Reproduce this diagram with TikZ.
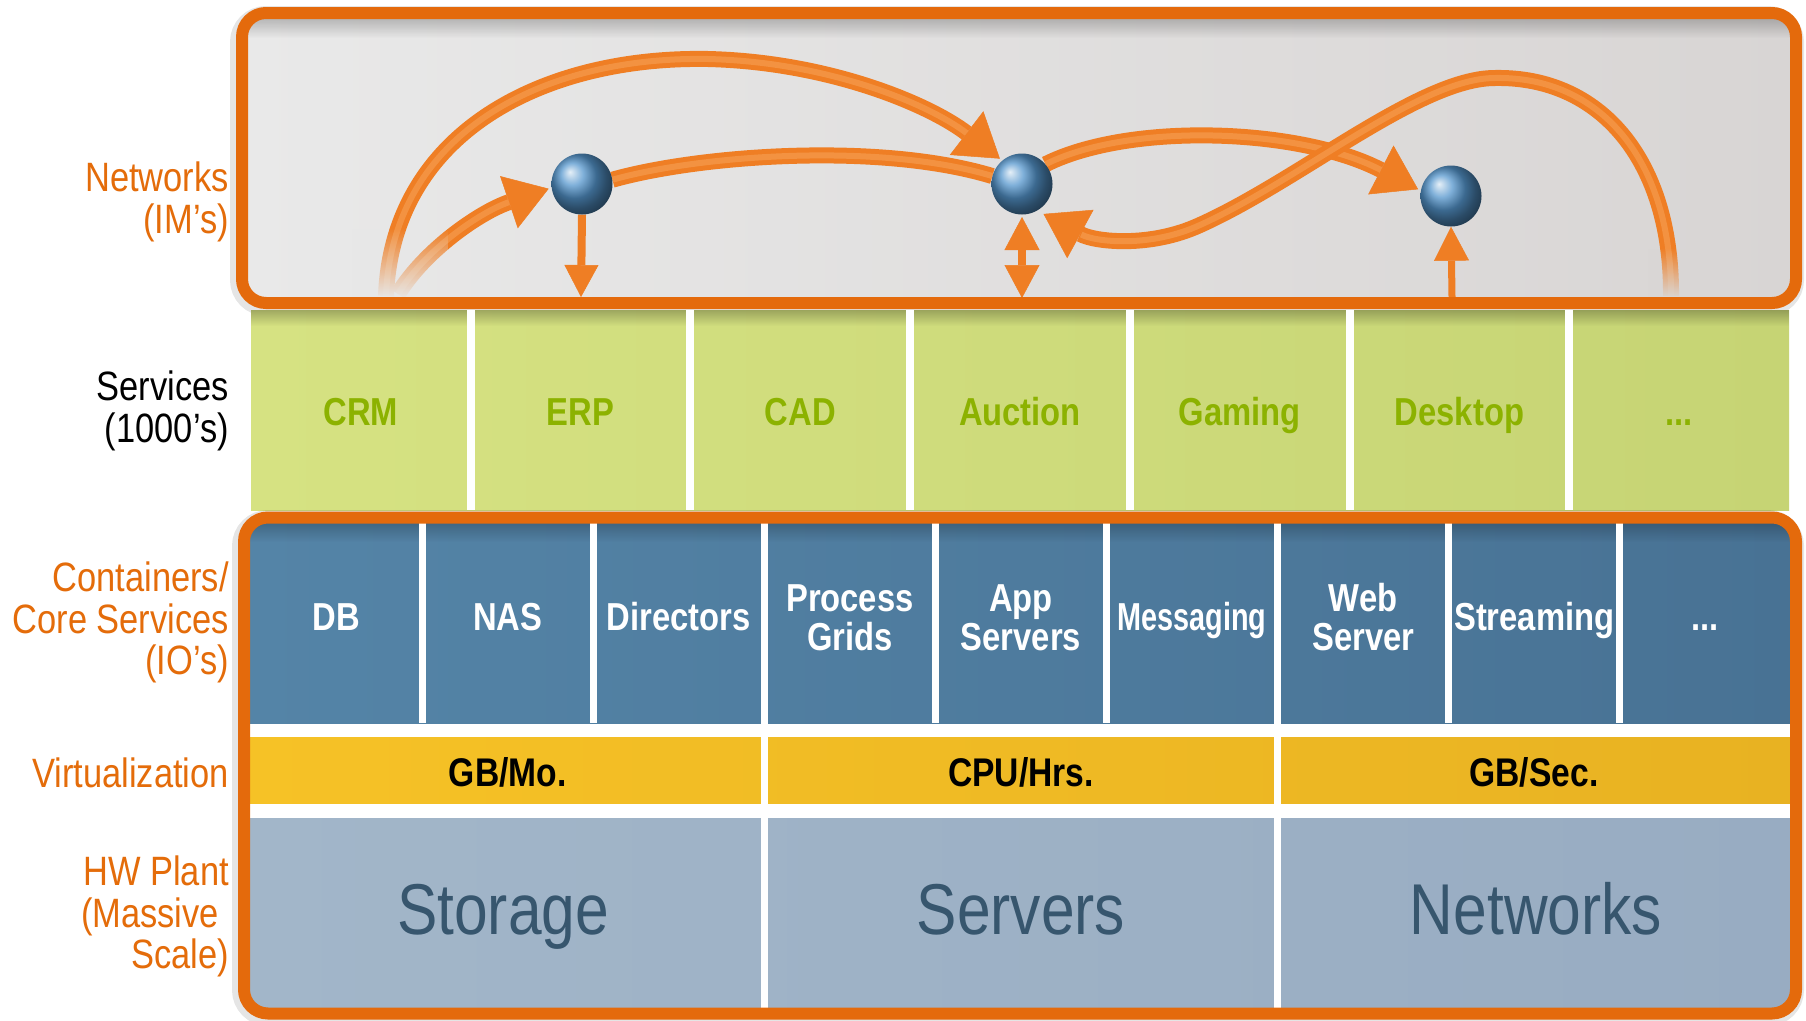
\documentclass[tikz,border=0pt]{standalone}
\usepackage{fontspec}
\setmainfont{Liberation Sans}[FakeStretch=0.84]
\usetikzlibrary{arrows.meta,fadings}
\definecolor{lblorange}{RGB}{228,108,10}
\definecolor{boxorange}{RGB}{228,106,12}
\definecolor{arrorange}{RGB}{239,126,36}
\definecolor{arrlight}{RGB}{250,178,110}
\definecolor{greenL}{RGB}{214,226,130}
\definecolor{greenR}{RGB}{198,212,116}
\definecolor{greentext}{RGB}{140,178,0}
\definecolor{blueL}{RGB}{84,132,167}
\definecolor{blueR}{RGB}{72,114,148}
\definecolor{yellowL}{RGB}{246,194,38}
\definecolor{yellowR}{RGB}{232,178,34}
\definecolor{hwL}{RGB}{162,182,201}
\definecolor{hwR}{RGB}{152,172,194}
\definecolor{hwtext}{RGB}{55,86,110}
\definecolor{panelL}{RGB}{233,233,233}
\definecolor{panelR}{RGB}{216,213,212}
\definecolor{coverL}{RGB}{231,231,231}
\definecolor{coverR}{RGB}{217,214,213}
\definecolor{ballblue}{RGB}{85,150,205}
\tikzfading[name=fadeup, top color=transparent!100, bottom color=transparent!0]
\tikzfading[name=fadedn, top color=transparent!0, bottom color=transparent!100]
\pgfdeclarelayer{back}
\pgfdeclarelayer{arr}
\pgfsetlayers{back,arr,main}
\newcommand\lblfont{\fontsize{41}{42}\selectfont}
\newcommand\cellfont{\fontsize{39}{39}\selectfont\bfseries}
\newcommand\hwfont{\fontsize{72}{72}\selectfont}
\tikzset{
  lbl/.style={font=\lblfont, text=lblorange, anchor=base east, inner sep=0pt},
  gtxt/.style={font=\cellfont, text=greentext, anchor=base, inner sep=0pt},
  btxt/.style={font=\cellfont, text=white, anchor=base, inner sep=0pt},
  ytxt/.style={font=\fontsize{40}{40}\selectfont\bfseries, text=black, anchor=base, inner sep=0pt},
  htxt/.style={font=\hwfont, text=hwtext, anchor=base, inner sep=0pt},
  ballnode/.style={circle, minimum size=61pt, inner sep=0pt, shading=ball, ball color=ballblue},
  thickarr/.style={line width=16pt, arrorange, line cap=butt,
    -{Triangle[length=42pt,width=55pt,line width=0.5pt]}, shorten >=3pt},
  thickline/.style={line width=16pt, arrorange, line cap=butt},
  corestripe/.style={line width=6pt, arrlight, opacity=0.4, line cap=butt},
  thinarr/.style={line width=8pt, arrorange, line cap=butt},
  sep/.style={white}
}
\begin{document}
\begin{tikzpicture}[x=1pt,y=1pt]
\useasboundingbox (0,0) rectangle (1806,-1020);

% ---------------- top box (networks) ----------------
\begin{pgfonlayer}{back}
\fill[white] (0,0) rectangle (1806,-1020);
\draw[black, opacity=0.10, line width=20pt, rounded corners=26pt] (240,-16) rectangle (1794,-306);
\begin{scope}
  \clip[rounded corners=24pt] (242,-13) rectangle (1796,-303);
  \shade[left color=panelL, right color=panelR] (242,-13) rectangle (1796,-303);
  \fill[black, opacity=0.22, path fading=fadedn] (242,-18) rectangle (1796,-38);
\end{scope}
\end{pgfonlayer}

% balls
\node[ballnode] (b1) at (582,-184) {};
\node[ballnode] (b2) at (1022,-184) {};
\node[ballnode] (b3) at (1451,-196) {};

% free ends
\coordinate (aS) at (398,-294);
\coordinate (bS) at (386,-296);
\coordinate (eS) at (1671,-296);
\coordinate (d1) at (581,-297);
\coordinate (d2a) at (1022,-217);
\coordinate (d2b) at (1022,-298);
\coordinate (d3) at (1452,-297);

\begin{pgfonlayer}{arr}
% arc B (big arc to ball 2)
\draw[thickarr] (bS) .. controls (392,-135) and (540,-56) .. (708,-59)
   .. controls (830,-62) and (930,-105) .. (b2.130);
\draw[corestripe, shorten >=45pt] (bS) .. controls (392,-135) and (540,-56) .. (708,-59)
   .. controls (830,-62) and (930,-105) .. (b2.130);
% arc A (to ball 1)
\draw[thickarr] (aS) .. controls (425,-250) and (480,-212) .. (b1.187);
\draw[corestripe, shorten >=45pt] (aS) .. controls (425,-250) and (480,-212) .. (b1.187);
% link C (ball 1 to ball 2)
\draw[thickline] (b1.8) .. controls (700,-155) and (880,-142) .. (b2.165);
\draw[corestripe] (b1.8) .. controls (700,-155) and (880,-142) .. (b2.165);
% arrow D (ball 2 to ball 3)
\draw[thickarr] (b2.40) .. controls (1130,-122) and (1300,-128) .. (b3.170);
\draw[corestripe, shorten >=45pt] (b2.40) .. controls (1130,-122) and (1300,-128) .. (b3.170);
% arrow E (S curve back to ball 2)
\draw[thickarr, shorten >=7pt] (eS) .. controls (1672,-160) and (1600,-76) .. (1495,-78)
   .. controls (1420,-78) and (1300,-180) .. (1200,-225)
   .. controls (1150,-248) and (1095,-242) .. (b2.-60);
\draw[corestripe, shorten >=50pt] (eS) .. controls (1672,-160) and (1600,-76) .. (1495,-78)
   .. controls (1420,-78) and (1300,-180) .. (1200,-225)
   .. controls (1150,-248) and (1095,-242) .. (b2.-60);
% vertical arrows
\draw[thinarr, -{Triangle[length=32pt,width=34pt,line width=0.5pt]}] (b1.south) -- (d1);
\draw[thinarr, {Triangle[length=33pt,width=35pt,line width=0.5pt]}-{Triangle[length=33pt,width=35pt,line width=0.5pt]}] (d2a) -- (d2b);
\draw[thinarr, line width=7pt, -{Triangle[length=34pt,width=35pt,line width=0.5pt]}] (d3) -- (b3.south);
\end{pgfonlayer}

% fading covers at arc starts
\fill[coverL, path fading=fadeup] (352,-228) rectangle (448,-298);
\fill[coverR, path fading=fadeup] (1648,-248) rectangle (1694,-298);

% orange border top box
\draw[boxorange, line width=12pt, rounded corners=24pt] (242,-13) rectangle (1796,-303);

% ---------------- green services row ----------------
\shade[left color=greenL, right color=greenR] (251,-310) rectangle (1789,-510);
\fill[black, opacity=0.25, path fading=fadedn] (251,-310) rectangle (1789,-326);
\foreach \x in {470.7,690.4,910.1,1129.9,1349.6,1569.3}
  \fill[sep] (\x-4,-310) rectangle (\x+4,-510);
\node[gtxt] (gcrm) at (360.9,-425) {CRM};
\node[gtxt] (gerp) at (580.6,-425) {ERP};
\node[gtxt] (gcad) at (800.3,-425) {CAD};
\node[gtxt] (gauc) at (1020.0,-425) {Auction};
\node[gtxt] (ggam) at (1239.7,-425) {Gaming};
\node[gtxt] (gdes) at (1459.4,-425) {Desktop};
\node[gtxt] (gdot) at (1679.1,-425) {...};

% ---------------- bottom box ----------------
\draw[black, opacity=0.10, line width=20pt, rounded corners=26pt] (242,-520) rectangle (1794,-1016);
\begin{scope}
  \clip[rounded corners=24pt] (244,-517.5) rectangle (1796,-1013.5);
  \fill[white] (244,-517.5) rectangle (1796,-1013.5);
  \shade[left color=blueL, right color=blueR] (244,-517.5) rectangle (1796,-723);
  \fill[black, opacity=0.22, path fading=fadedn] (244,-522) rectangle (1796,-542);
  \shade[left color=yellowL, right color=yellowR] (244,-737) rectangle (1796,-803);
  \shade[left color=hwL, right color=hwR] (244,-818) rectangle (1796,-1013.5);
  \foreach \x in {422.1,593.2,764.3,935.4,1106.6,1277.7,1448.8,1619.9}
    \fill[sep] (\x-3.5,-517.5) rectangle (\x+3.5,-723);
  \foreach \x in {764.3,1277.7}
    \fill[sep] (\x-3.5,-723) rectangle (\x+3.5,-1013.5);
\end{scope}
\draw[boxorange, line width=12pt, rounded corners=24pt] (244,-517.5) rectangle (1796,-1013.5);

% container labels
\node[btxt] (cdb) at (336.6,-630) {DB};
\node[btxt] (cnas) at (507.7,-630) {NAS};
\node[btxt] (cdir) at (678.8,-630) {Directors};
\node[btxt] (cpg1) at (849.9,-611) {Process};
\node[btxt] (cpg2) at (849.9,-650) {Grids};
\node[btxt] (cas1) at (1021.0,-611) {App};
\node[btxt] (cas2) at (1021.0,-650) {Servers};
\node[btxt] (cmsg) at (1192.1,-630) {\scalebox{0.88}[1]{Messaging}};
\node[btxt] (cws1) at (1363.2,-611) {Web};
\node[btxt] (cws2) at (1363.2,-650) {Server};
\node[btxt] (cstr) at (1534.3,-630) {Streaming};
\node[btxt] (cdot) at (1705.4,-630) {...};

% virtualization labels
\node[ytxt] (vmo) at (507.7,-786) {GB/Mo.};
\node[ytxt] (vcpu) at (1021.0,-786) {CPU/Hrs.};
\node[ytxt] (vsec) at (1533.9,-786) {GB/Sec.};

% hw labels
\node[htxt] (hsto) at (503,-934) {Storage};
\node[htxt] (hser) at (1021.0,-934) {Servers};
\node[htxt] (hnet) at (1536,-934) {Networks};

% ---------------- left labels ----------------
\node[lbl] (lnet1) at (229,-191) {Networks};
\node[lbl] (lnet2) at (229,-233) {(IM’s)};
\node[lbl, text=black] (lsv1) at (229,-400) {Services};
\node[lbl, text=black] (lsv2) at (229,-442) {(1000’s)};
\node[lbl] (lco1) at (229,-591) {Containers/};
\node[lbl] (lco2) at (229,-633) {Core Services};
\node[lbl] (lco3) at (229,-674) {(IO’s)};
\node[lbl] (lvi) at (229,-787) {Virtualization};
\node[lbl] (lhw1) at (229,-885) {HW Plant};
\node[lbl] (lhw2) at (219,-927) {(Massive};
\node[lbl] (lhw3) at (229,-968) {Scale)};
\end{tikzpicture}
\end{document}
